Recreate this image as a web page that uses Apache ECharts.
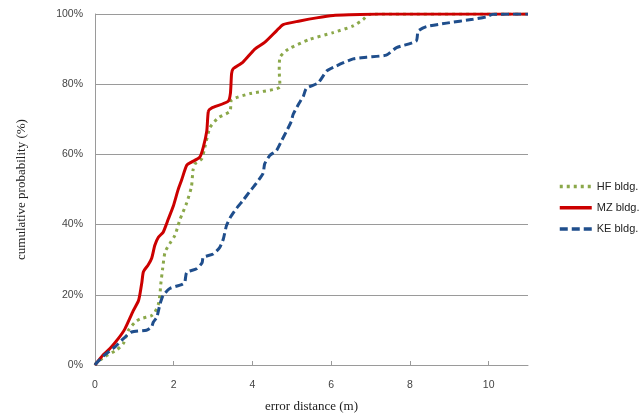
<!DOCTYPE html>
<html>
<head>
<meta charset="utf-8">
<script src="https://cdn.jsdelivr.net/npm/echarts@6/dist/echarts.min.js"></script>
<style>html,body{margin:0;padding:0;background:#fff;}#c{width:644px;height:418px;}</style>
</head>
<body>
<div id="c"></div>
<script>
var seriesNames = ['HF bldg.', 'MZ bldg.', 'KE bldg.'];
var xTicks = [0, 2, 4, 6, 8, 10];
var yTicks = ['0%', '20%', '40%', '60%', '80%', '100%'];

var hfX = [0, 0.04, 0.25, 0.55, 0.72, 0.85, 1.02, 1.14, 1.44, 1.52, 1.61, 1.65, 1.67, 1.72, 1.78, 1.90, 2.03, 2.11, 2.16, 2.33, 2.45, 2.49, 2.54, 2.71, 2.79, 2.92, 3.13, 3.43, 3.47, 3.93, 4.70, 4.68, 4.70, 4.91, 5.46, 6.05, 6.56, 6.81, 6.94, 7.10, 11];
var hfY = [0, 0.6, 2.4, 4.3, 6.1, 9.9, 12.2, 13.1, 14.1, 15.0, 17.3, 20.1, 22.9, 27.6, 32.2, 34.6, 36.9, 39.7, 41.5, 46.2, 50.8, 55.5, 57.3, 58.7, 62.0, 67.6, 70.4, 72.3, 75.5, 77.3, 79.3, 84.0, 87.7, 90.0, 92.8, 94.7, 96.6, 98.4, 99.8, 100, 100];

var mzX = [0, 0.21, 0.38, 0.59, 0.76, 0.97, 1.10, 1.14, 1.19, 1.23, 1.35, 1.44, 1.52, 1.61, 1.73, 1.80, 1.86, 1.99, 2.11, 2.20, 2.33, 2.45, 2.66, 2.75, 2.84, 2.88, 2.96, 3.38, 3.44, 3.47, 3.51, 3.76, 4.06, 4.31, 4.61, 4.78, 5.20, 5.63, 6.05, 6.47, 7.23, 11];
var mzY = [0, 2.9, 4.7, 7.5, 10.3, 15.4, 18.2, 20.1, 23.5, 26.6, 28.5, 30.4, 34.1, 36.4, 37.8, 39.7, 41.5, 45.3, 49.9, 52.7, 56.9, 57.8, 59.2, 62.0, 66.7, 72.3, 73.2, 75.1, 77.4, 83.0, 84.4, 86.3, 90.0, 91.9, 95.2, 97.0, 98.0, 98.9, 99.6, 99.8, 100, 100];

var keX = [0, 0.04, 0.25, 0.51, 0.72, 0.93, 1.31, 1.44, 1.48, 1.57, 1.65, 1.73, 1.90, 2.20, 2.28, 2.33, 2.58, 2.72, 2.75, 3.00, 3.17, 3.26, 3.34, 3.43, 3.60, 3.76, 3.93, 4.10, 4.27, 4.31, 4.44, 4.61, 4.74, 4.87, 4.99, 5.03, 5.16, 5.29, 5.37, 5.67, 5.89, 6.13, 6.56, 6.90, 7.40, 7.66, 8.16, 8.21, 8.42, 8.93, 9.60, 9.94, 10.11, 11];
var keY = [0, 0.6, 2.9, 5.2, 7.5, 9.4, 9.9, 10.9, 12.2, 13.6, 17.3, 19.8, 21.8, 22.9, 23.5, 26.4, 27.4, 29.1, 30.7, 31.6, 33.5, 35.9, 39.7, 41.9, 44.7, 46.9, 49.4, 51.8, 54.6, 57.3, 59.7, 61.1, 63.9, 66.7, 69.5, 71.3, 74.1, 76.5, 78.8, 80.4, 83.8, 85.2, 87.2, 87.7, 88.3, 90.4, 92.3, 95.1, 96.4, 97.4, 98.5, 99.2, 99.9, 100];

function pairs(xs, ys) { return xs.map(function (x, i) { return [x, ys[i]]; }); }

var chart = echarts.init(document.getElementById('c'), null, {renderer: 'canvas'});
chart.setOption({
  animation: false,
  backgroundColor: '#ffffff',
  grid: {left: 95, right: 116, top: 14, bottom: 46},
  legend: {
    orient: 'vertical', left: 553, top: 176,
    itemWidth: 32, itemHeight: 14, itemGap: 10,
    itemStyle: {opacity: 0},
    lineStyle: {width: 3.5},
    textStyle: {fontFamily: 'Liberation Sans', fontSize: 11, color: '#222'},
    data: seriesNames
  },
  xAxis: {
    type: 'value', min: 0, max: 11, interval: 2,
    name: 'error distance (m)', nameLocation: 'middle', nameGap: 35,
    nameTextStyle: {fontFamily: 'Liberation Serif', fontSize: 13, color: '#222'},
    axisLine: {lineStyle: {color: '#9a9a9a', width: 1}},
    axisTick: {show: true, inside: true, length: 4, customValues: xTicks, lineStyle: {color: '#9a9a9a'}},
    axisLabel: {
      margin: 15, fontFamily: 'Liberation Sans', fontSize: 10.5, color: '#444',
      customValues: xTicks
    },
    splitLine: {show: false}
  },
  yAxis: {
    type: 'value', min: 0, max: 100, interval: 20,
    name: 'cumulative probability (%)', nameLocation: 'middle', nameGap: 67, nameRotate: 90,
    nameTextStyle: {fontFamily: 'Liberation Serif', fontSize: 13, color: '#222'},
    axisLine: {show: true, lineStyle: {color: '#9a9a9a', width: 1}},
    axisTick: {show: false},
    axisLabel: {
      margin: 12, fontFamily: 'Liberation Sans', fontSize: 10.5, color: '#444',
      formatter: function (v) { return yTicks[Math.round(v / 20)]; }
    },
    splitLine: {show: true, lineStyle: {color: '#9a9a9a', width: 1}}
  },
  series: [
    {
      name: seriesNames[0], type: 'line', data: pairs(hfX, hfY),
      symbol: 'none', smooth: 0.2,
      lineStyle: {color: '#8BA84A', width: 3, type: [3, 4]},
      itemStyle: {color: '#8BA84A'}
    },
    {
      name: seriesNames[1], type: 'line', data: pairs(mzX, mzY),
      symbol: 'none', smooth: 0.2,
      lineStyle: {color: '#CC0000', width: 3, type: 'solid'},
      itemStyle: {color: '#CC0000'}
    },
    {
      name: seriesNames[2], type: 'line', data: pairs(keX, keY),
      symbol: 'none', smooth: 0.2,
      lineStyle: {color: '#1F4E8C', width: 3, type: [8, 4]},
      itemStyle: {color: '#1F4E8C'}
    }
  ]
});
</script>
</body>
</html>
